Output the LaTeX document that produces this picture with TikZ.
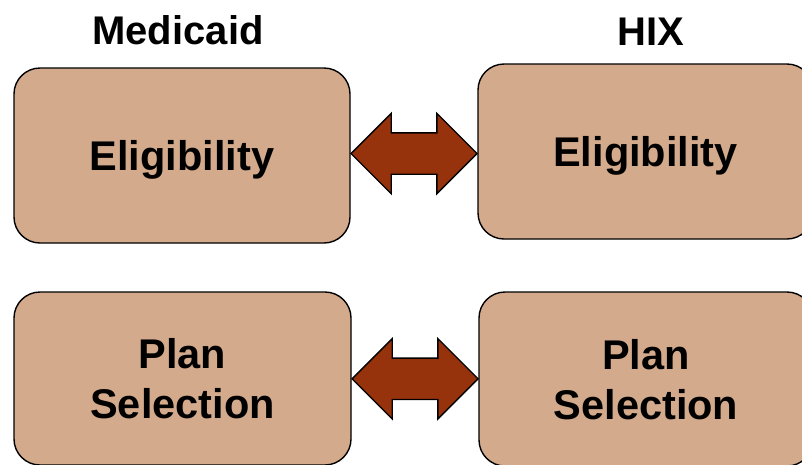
\documentclass[tikz,border=0pt]{standalone}
\usepackage{fontspec}
\setmainfont{Liberation Sans}
\usetikzlibrary{shapes.arrows,calc,positioning}
\definecolor{boxtan}{RGB}{212,170,140}
\definecolor{arrowbrown}{RGB}{150,50,12}
\newcommand{\boxfont}{\fontsize{41.5}{50}\selectfont\bfseries}
\newcommand{\headfont}{\fontsize{40}{48}\selectfont\bfseries}

\begin{document}
\begin{tikzpicture}[x=1pt, y=-1pt,
    box/.style={draw=black, line width=1.4pt, fill=boxtan, rounded corners=26pt,
        align=center, font=\boxfont, inner sep=0pt, text depth=0pt},
    head/.style={font=\headfont, inner sep=0pt},
    darrow/.style={double arrow, draw=black, line width=1.4pt, fill=arrowbrown,
        minimum height=126pt, double arrow head extend=19.5pt,
        inner xsep=0pt, inner ysep=20pt}]
    \useasboundingbox (0,0) rectangle (802,464);

    % boxes
    \node [box, minimum width=336pt, minimum height=175pt] (elM) at (182,155.5) {Eligibility};
    \node [box, minimum width=335pt, minimum height=175pt] (elH) at (645.5,151.5) {Eligibility};
    \node [box, minimum width=337pt, minimum height=173pt] (psM) at (182.5,378.5) {Plan\\Selection};
    \node [box, minimum width=334pt, minimum height=174pt] (psH) at (646,379) {Plan\\Selection};

    % column titles
    \node [head, above=22pt of elM, xshift=-4pt] (titM) {Medicaid};
    \node [head, above=18pt of elH, xshift=5pt] (titH) {HIX};

    % arrows
    \node [darrow] (arrE) at ($(elM.east)!.5!(elH.west)$) {};
    \node [darrow] (arrP) at ($(psM.east)!.5!(psH.west)$) {};
\end{tikzpicture}
\end{document}
